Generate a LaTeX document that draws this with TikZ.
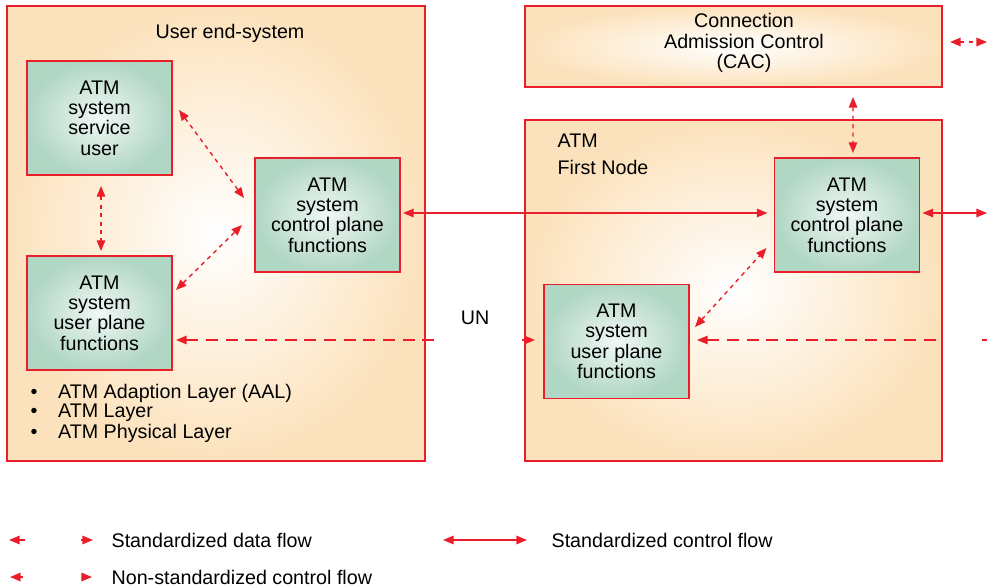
\documentclass[tikz,border=0pt]{standalone}
\usepackage{fontspec}
\setmainfont{Liberation Sans}
\usetikzlibrary{arrows.meta,calc}

\definecolor{atmorange}{RGB}{252,226,188}
\definecolor{atmgreen}{RGB}{176,214,196}
\definecolor{atmred}{RGB}{233,30,42}

\def\fnwidth{3.625cm}
\def\fnheight{2.85cm}
\def\bulletgap{19.6pt}

\begin{document}
\begin{tikzpicture}[x=0.025cm,y=-0.025cm,line width=0.9pt,font=\fontsize{14}{14.5}\selectfont,
    >={Triangle[length=7.5pt,width=6pt]}]
    \tikzstyle{area}=[draw=atmred,inner sep=0pt,outer sep=0pt,shading=radial,inner color=white,outer color=atmorange]
    \tikzstyle{func}=[draw=atmred,inner sep=0pt,outer sep=0pt,shading=radial,inner color=atmgreen!18!white,
        outer color=atmgreen,minimum width=\fnwidth,minimum height=\fnheight,align=center]
    \tikzstyle{caption}=[inner sep=0pt]
    \tikzstyle{dataflow}=[draw=atmred,line width=1pt,dash pattern=on 8.5pt off 5.5pt]
    \tikzstyle{ctrlflow}=[draw=atmred,line width=1pt,<->]
    \tikzstyle{privflow}=[draw=atmred,line width=1pt,dash pattern=on 3pt off 3pt]

    \useasboundingbox (0,0) rectangle (987,587);

    % Draw the two systems and the CAC
    \node[area,minimum width=10.45cm,minimum height=11.375cm] (enduser) at (216,233.5) {};
    \node[caption] (enduser-title) at (230,33) {User end-system};
    \node[area,minimum width=10.425cm,minimum height=2.025cm] (cac) at (733.5,46.5) {};
    \node[caption,align=center] (cac-text) at (744,43) {Connection\\Admission Control\\(CAC)};
    \node[area,minimum width=10.425cm,minimum height=8.525cm] (firstnode) at (733.5,290.5) {};
    \node[caption,anchor=west] (fn-atm) at (557,141) {ATM};
    \node[caption,anchor=west] (fn-name) at (557,167) {First Node};

    % Draw the function blocks
    \node[func] (su) at (99.5,118) {ATM\\system\\service\\user};
    \node[func] (lup) at (99.5,313) {ATM\\system\\user plane\\functions};
    \node[func] (lcp) at (327.5,215) {ATM\\system\\control plane\\functions};
    \node[func] (rcp) at (847,215) {ATM\\system\\control plane\\functions};
    \node[func] (rup) at (616.5,341.5) {ATM\\system\\user plane\\functions};

    % Layers of the end-system
    \node[caption,anchor=west] (aal) at (30,393) {\makebox[\bulletgap][l]{\textbullet}ATM Adaption Layer (AAL)};
    \node[caption,anchor=west] (atmlayer) at (30,413) {\makebox[\bulletgap][l]{\textbullet}ATM Layer};
    \node[caption,anchor=west] (phylayer) at (30,433) {\makebox[\bulletgap][l]{\textbullet}ATM Physical Layer};

    \node[caption] (uni) at (475,318) {UN};

    % Free ends of the flows
    \coordinate (ctrl-out) at (987,213);
    \coordinate (cac-out) at (987,42);
    \coordinate (uni-left) at (437,340);
    \coordinate (uni-right) at (522,340);
    \coordinate (data-right) at (940,340);
    \coordinate (data-edge) at (982,340);
    \coordinate (data-out) at (987,340);

    % Non-standardized control flows
    \draw[privflow,<->] ($(su.east)+(7,-8)$) -- ($(lcp.west)+(-11,-17)$);
    \draw[privflow,<->] ($(lup.east)+(4,-23)$) -- ($(lcp.west)+(-13,10)$);
    \draw[privflow,<->] ($(su.south)+(1.5,11)$) -- ($(lup.north)+(1.5,-5)$);
    \draw[privflow,<->] ($(cac.south)+(119.5,10)$) -- ($(rcp.north)+(6,-5)$);
    \draw[privflow,<->] ($(cac.east)+(8,-4.5)$) -- (cac-out);
    \draw[privflow,<->] ($(rup.east)+(6,-14.5)$) -- ($(rcp.west)+(-8,33)$);

    % Standardized control flows
    \draw[ctrlflow] ($(lcp.east)+(3,-2)$) -- ($(rcp.west)+(-7,-2)$);
    \draw[ctrlflow] ($(rcp.east)+(3,-2)$) -- (ctrl-out);

    % Standardized data flows
    \draw[dataflow,<-] ($(lup.east)+(4,27)$) -- (uni-left);
    \draw[dataflow,->] (uni-right) -- ($(rup.west)+(-9,-1.5)$);
    \draw[dataflow,<-] ($(rup.east)+(8,-1.5)$) -- (data-right);
    \draw[dataflow] (data-edge) -- (data-out);

    % Legend
    \coordinate (leg-data-a) at (9,540);
    \coordinate (leg-data-b) at (93,540);
    \coordinate (leg-ctrl-a) at (443,540);
    \coordinate (leg-ctrl-b) at (527,540);
    \coordinate (leg-priv-a) at (10,577);
    \coordinate (leg-priv-b) at (92,577);
    \draw[dataflow,<->,dash pattern=on 4pt off 40pt] (leg-data-a) -- (leg-data-b);
    \node[caption,anchor=west] (leg-data) at (111,540) {Standardized data flow};
    \draw[ctrlflow] (leg-ctrl-a) -- (leg-ctrl-b);
    \node[caption,anchor=west] (leg-ctrl) at (551,540) {Standardized control flow};
    \draw[privflow,<->,dash pattern=on 2pt off 43pt] (leg-priv-a) -- (leg-priv-b);
    \node[caption,anchor=west] (leg-priv) at (111,577) {Non-standardized control flow};
\end{tikzpicture}
\end{document}
